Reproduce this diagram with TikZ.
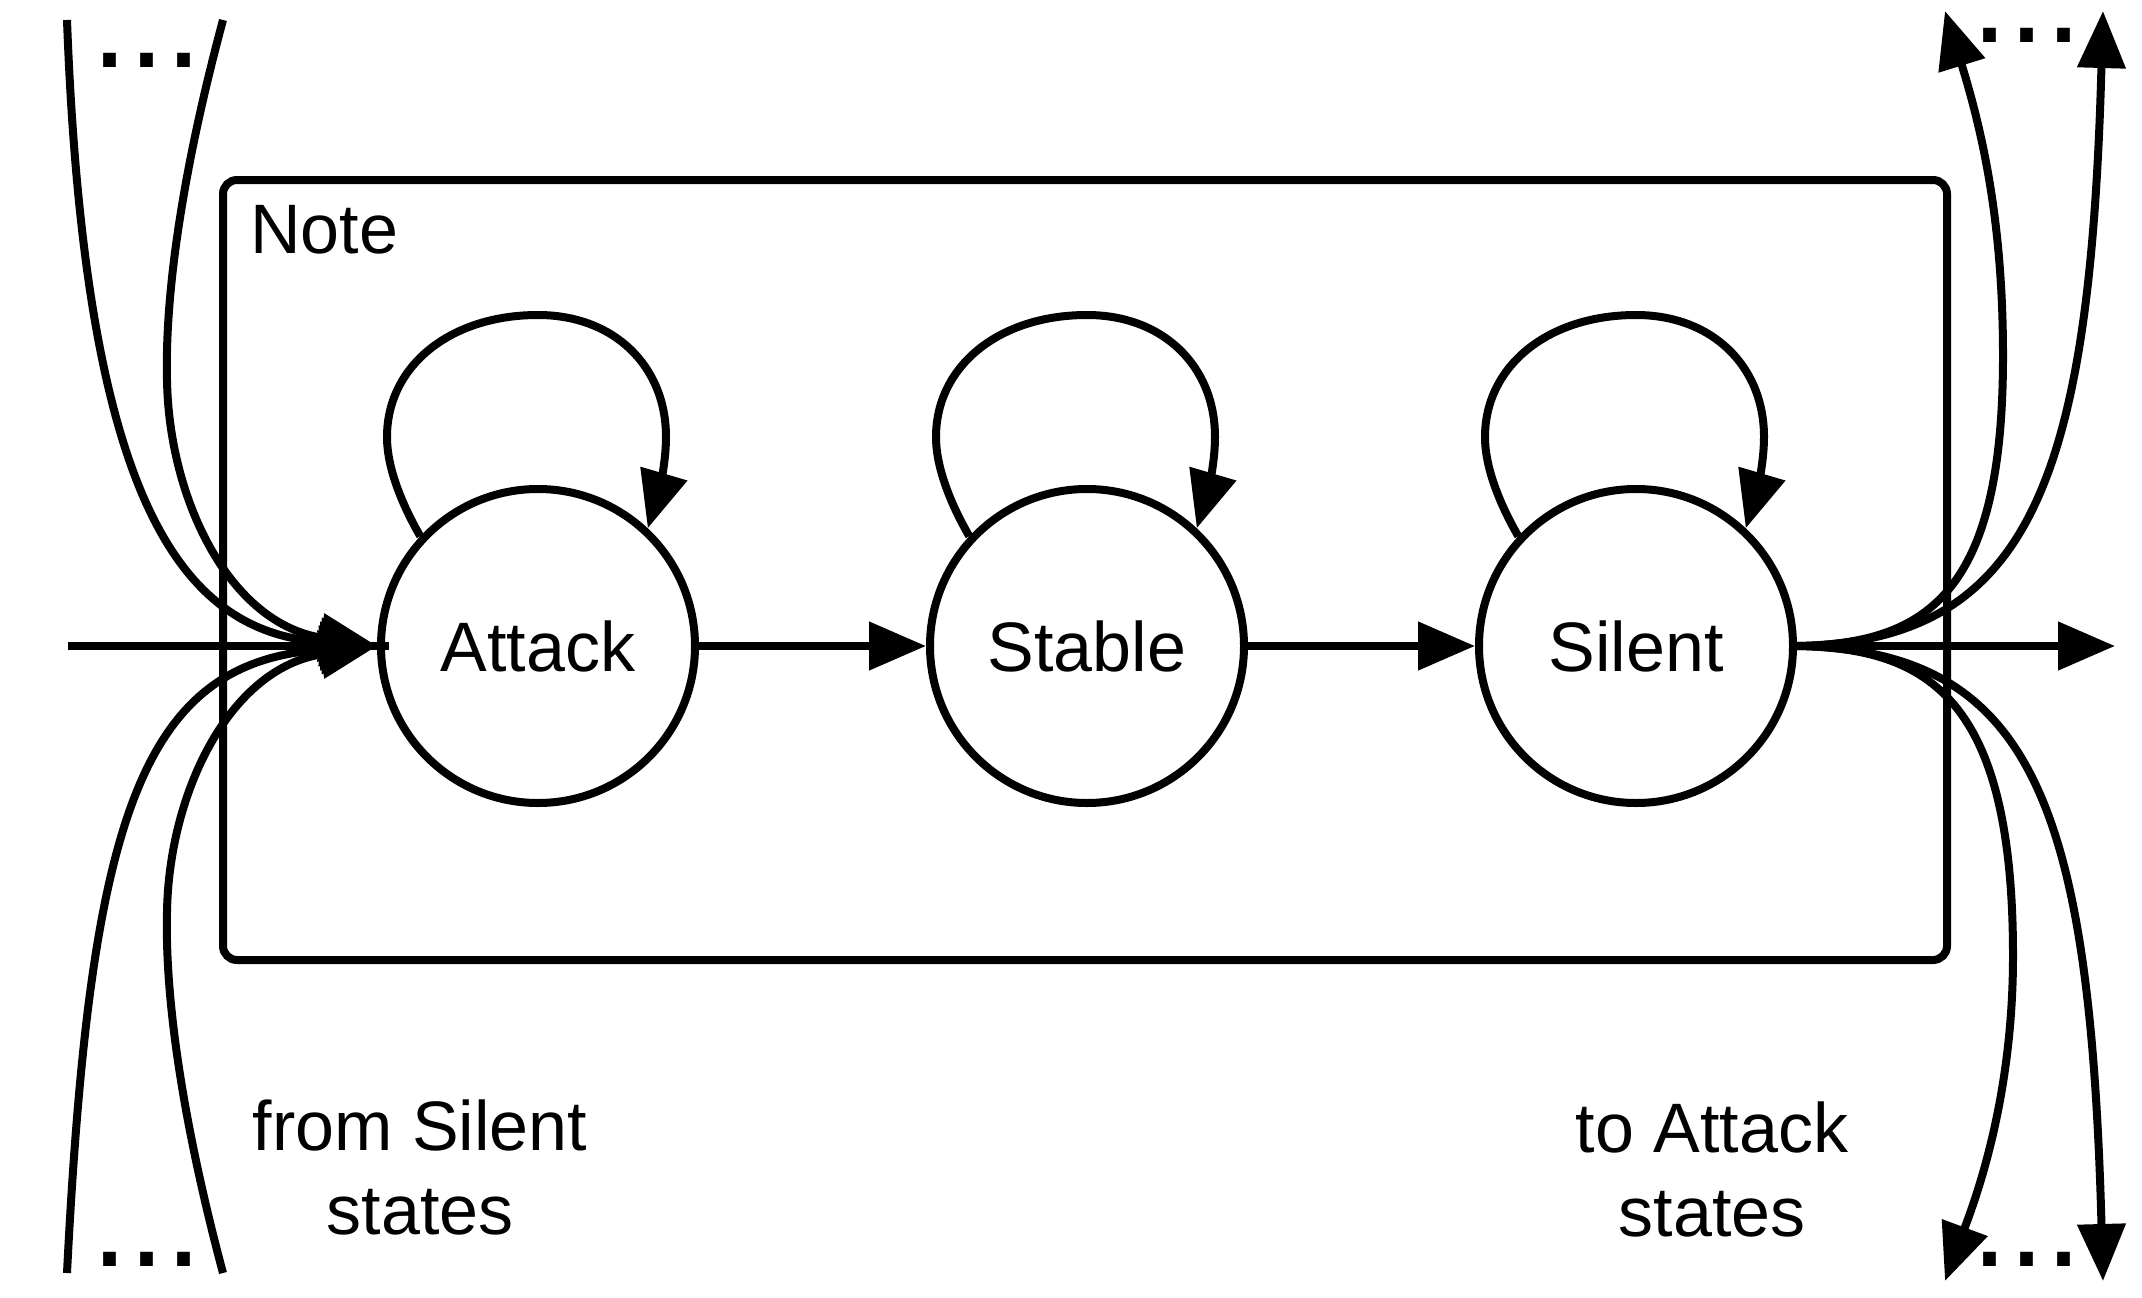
\documentclass[tikz,border=0pt]{standalone}
\usepackage{fontspec}
\setmainfont{Liberation Sans}
\usetikzlibrary{arrows.meta,calc}
\tikzset{
  conn/.style={line width=8pt},
  arr/.style={-{Triangle[length=57pt,width=47pt]}},
  stbox/.style={circle, draw, line width=8pt, minimum size=314pt, inner sep=0pt,
    font=\fontsize{70pt}{84pt}\selectfont},
  lbl/.style={inner sep=0pt, font=\fontsize{70pt}{84pt}\selectfont, align=center},
  dotrow/.style={inner sep=0pt, anchor=base west, text height=14pt, text depth=0pt,
    font=\fontsize{133pt}{140pt}\selectfont},
  notebox/.style={draw, line width=8pt, rounded corners=14pt, inner sep=0pt,
    minimum width=1724pt, minimum height=780pt},
}
\newcommand{\stateloop}[1]{%
  \draw[conn,arr] (#1.137)
    .. controls ($(#1)+(-134,-138)$) and ($(#1)+(-151,-176)$) .. ($(#1)+(-151,-209)$)
    .. controls ($(#1)+(-151,-280)$) and ($(#1)+(-88,-331)$) .. ($(#1)+(0,-331)$)
    .. controls ($(#1)+(76,-331)$) and ($(#1)+(128,-280)$) .. ($(#1)+(128,-209)$)
    .. controls ($(#1)+(128,-179)$) and ($(#1)+(119,-149)$) .. (#1.47);}
\begin{document}
\begin{tikzpicture}[x=1pt,y=-1pt]
\useasboundingbox (0,0) rectangle (2142,1298);

% note box
\node[notebox] (note) at (1085,570) {};
\node[lbl, anchor=base west] (notelbl) at (250,253) {Note};

% states
\node[stbox] (A) at (538,646) {Attack};
\node[stbox] (St) at (1087,646) {Stable};
\node[stbox] (Si) at (1636,646) {Silent};

% self loops
\stateloop{A}
\stateloop{St}
\stateloop{Si}

% chain
\draw[conn,arr] (A) -- (St);
\draw[conn,arr] (St) -- (Si);

% free ends
\coordinate (lin) at (68,646);
\coordinate (lt1) at (67,20);
\coordinate (lt2) at (223,20);
\coordinate (lb1) at (67,1273);
\coordinate (lb2) at (223,1273);
\coordinate (rout) at (2115,646);
\coordinate (rt1) at (1945,11);
\coordinate (rt2) at (2103,11);
\coordinate (rb1) at (1945,1281);
\coordinate (rb2) at (2103,1281);

% incoming to Attack
\draw[conn] (lin) -- ($(A.west)+(12,0)$);
\draw[conn,arr] (lin) -- (A.west);
\draw[conn,arr] (lt1) .. controls (85,500) and (180,632) .. (A.west);
\draw[conn,arr] (lt2) .. controls (180,180) and (165,300) .. (167,380)
                      .. controls (169,500) and (230,624) .. (A.west);
\draw[conn,arr] (lb1) .. controls (90,820) and (140,662) .. (A.west);
\draw[conn,arr] (lb2) .. controls (180,1112) and (165,992) .. (167,912)
                      .. controls (169,792) and (230,668) .. (A.west);

% outgoing from Silent
\draw[conn,arr] (Si.east) -- (rout);
\draw[conn,arr] (Si.east) .. controls (1930,644) and (2003,590) .. (2003,356)
                          .. controls (2003,230) and (1985,140) .. (rt1);
\draw[conn,arr] (Si.east) .. controls (2030,642) and (2090,480) .. (rt2);
\draw[conn,arr] (Si.east) .. controls (1930,648) and (2013,700) .. (2013,956)
                          .. controls (2013,1100) and (1975,1200) .. (rb1);
\draw[conn,arr] (Si.east) .. controls (2030,650) and (2090,800) .. (rb2);

% dots
\node[dotrow] (dtl) at (91,68) {...};
\node[dotrow] (dbl) at (91,1266) {...};
\node[dotrow] (dtr) at (1971,43) {...};
\node[dotrow] (dbr) at (1971,1266) {...};

% labels
\node[lbl, anchor=north] (fromlbl) at (420,1100) {from Silent\\states};
\node[lbl, anchor=north] (tolbl) at (1712,1102) {to Attack\\states};
\end{tikzpicture}
\end{document}
